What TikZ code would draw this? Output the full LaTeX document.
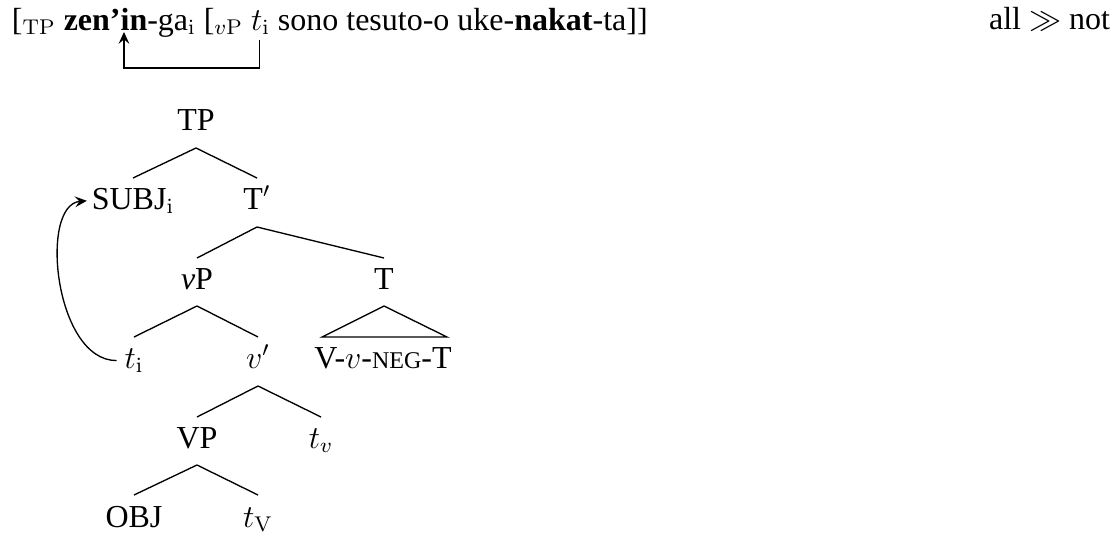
\documentclass[tikz,border=0pt]{standalone}
\usepackage[no-math]{fontspec}
\setmainfont{Liberation Serif}
\usetikzlibrary{arrows.meta,calc}
\begin{document}
\begin{tikzpicture}[x=0.375pt,y=-0.375pt,
  lbl/.style={inner sep=0pt,outer sep=0pt,anchor=base,font=\fontsize{12}{14}\selectfont},
  seg/.style={inner sep=0pt,outer sep=0pt,anchor=base west,font=\fontsize{12}{14}\selectfont},
  br/.style={line width=0.5pt},
  mv/.style={line width=0.5pt,-{Stealth[length=4.4pt,width=4pt,inset=1.6pt]}}]
\useasboundingbox (0,0) rectangle (1120,536);
% top line
\node[seg] (s1) at (12,30) {[$_{\mathrm{TP}}$ \textbf{zen'}};
\node[seg] (s2) at (s1.base east) {\textbf{in}};
\node[seg] (s3) at (s2.base east) {-ga$_{\mathrm{i}}$ [$_{v\mathrm{P}}$\hspace{0.25em}\mbox{}};
\node[seg] (s4) at (s3.base east) {$t_{\mathrm{i}}$};
\node[seg] (s5) at (s4.base east) {\hspace{0.25em}sono tesuto-o uke-\textbf{nakat}-ta]]};
\node[lbl,anchor=base east] (scope) at (1110,29) {all $\gg$ not};
\draw[mv] ($(s4.base)+(-1,10)$) -- ++(0,28) -| ($(s2.base)+(-10,2)$);
% tree
\node[lbl] (tp) at (196,130) {TP};
\node[lbl] (subj) at (133,209) {SUBJ$_{\mathrm{i}}$};
\node[lbl] (tbar) at (257,209) {T$'$};
\node[lbl] (vp) at (197,289) {\textit{v}P};
\node[lbl] (t) at (384,289) {T};
\node[lbl] (ti) at (134,368) {$t_{\mathrm{i}}$};
\node[lbl] (vbar) at (258,368) {$v'$};
\node[lbl] (vneg) at (383,368) {V-$v$-{\fontsize{9}{10}\selectfont NEG}-T};
\node[lbl] (bigvp) at (197,448) {VP};
\node[lbl] (tv) at (321,448) {$t_v$};
\node[lbl] (obj) at (134,527) {OBJ};
\node[lbl] (tbigv) at (258,527) {$t_{\mathrm{V}}$};
\draw[br] ($(subj.base)+(0,-31)$) -- ($(tp.base)+(0,18)$) -- ($(tbar.base)+(0,-31)$);
\draw[br] ($(vp.base)+(0,-31)$) -- ($(tbar.base)+(0,18)$) -- ($(t.base)+(0,-31)$);
\draw[br] ($(ti.base)+(0,-31)$) -- ($(vp.base)+(0,17)$) -- ($(vbar.base)+(0,-31)$);
\draw[br] ($(bigvp.base)+(0,-31)$) -- ($(vbar.base)+(0,18)$) -- ($(tv.base)+(0,-31)$);
\draw[br] ($(obj.base)+(0,-32)$) -- ($(bigvp.base)+(0,17)$) -- ($(tbigv.base)+(0,-32)$);
\draw[br] ($(vneg.base)+(-61,-31)$) -- ($(t.base)+(0,17)$) -- ($(vneg.base)+(64,-31)$) -- cycle;
\draw[mv] ($(ti.west)+(-8,0)$) .. controls +(-62,0) and +(-48,4) .. ($(subj.west)+(-5,0)$);
\end{tikzpicture}
\end{document}
